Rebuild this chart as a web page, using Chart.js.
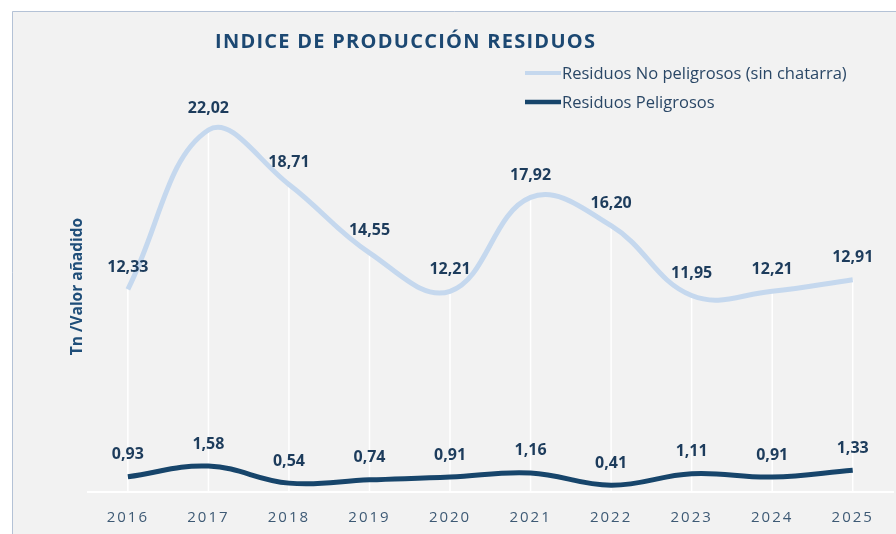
<!DOCTYPE html>
<html>
<head>
<meta charset="utf-8">
<script src="https://cdn.jsdelivr.net/npm/chart.js@4"></script>
<style>
  html, body { margin: 0; padding: 0; background: #ffffff; }
  #wrap { position: relative; width: 896px; height: 534px; }
</style>
</head>
<body>
<div id="wrap"><canvas id="residuosChart"></canvas></div>
<script>
// Values
const years = ['2016', '2017', '2018', '2019', '2020', '2021', '2022', '2023', '2024', '2025'];
const noPeligrosos = [12.33, 22.02, 18.71, 14.55, 12.21, 17.92, 16.20, 11.95, 12.21, 12.91];
const peligrosos = [0.93, 1.58, 0.54, 0.74, 0.91, 1.16, 0.41, 1.11, 0.91, 1.33];
const seriesNames = ['Residuos No peligrosos (sin chatarra)', 'Residuos Peligrosos'];
const chartTitle = 'INDICE DE PRODUCCIÓN RESIDUOS';
const yTitle = 'Tn /Valor añadido';

const lightBlue = '#c5d8ee';
const darkBlue = '#17456b';
const labelColor = '#1d3c5c';

function fmt(v) {
    return v.toFixed(2).replace('.', ',');
}

// Background box, drop lines, value labels, title and legend
const decorPlugin = {
    id: 'decor',
    beforeDraw(chart) {
        const ctx = chart.ctx;
        ctx.save();
        ctx.fillStyle = '#f2f2f2';
        ctx.fillRect(12, 11, chart.width - 12, chart.height - 11);
        ctx.strokeStyle = '#b4c2d6';
        ctx.lineWidth = 1;
        ctx.beginPath();
        ctx.moveTo(12.5, chart.height);
        ctx.lineTo(12.5, 11.5);
        ctx.lineTo(chart.width, 11.5);
        ctx.stroke();
        ctx.restore();
        // spaced digits on the year axis
        ctx.letterSpacing = '2px';
    },
    beforeDatasetsDraw(chart) {
        const ctx = chart.ctx;
        ctx.letterSpacing = '0px';
        const base = chart.scales.y.getPixelForValue(0);
        const meta = chart.getDatasetMeta(0);
        ctx.save();
        ctx.strokeStyle = '#ffffff';
        ctx.lineWidth = 1.5;
        meta.data.forEach(pt => {
            ctx.beginPath();
            ctx.moveTo(pt.x, pt.y);
            ctx.lineTo(pt.x, base);
            ctx.stroke();
        });
        ctx.restore();
    },
    afterDatasetsDraw(chart) {
        const ctx = chart.ctx;
        ctx.save();
        ctx.font = 'bold 16px "Open Sans"';
        ctx.fillStyle = labelColor;
        ctx.textAlign = 'center';
        ctx.textBaseline = 'middle';
        chart.data.datasets.forEach((ds, i) => {
            chart.getDatasetMeta(i).data.forEach((pt, j) => {
                ctx.fillText(fmt(ds.data[j]), pt.x, pt.y - 22);
            });
        });
        ctx.restore();
    },
    afterDraw(chart) {
        const ctx = chart.ctx;
        ctx.save();
        // title
        ctx.font = 'bold 20px "Open Sans"';
        ctx.fillStyle = '#1c4872';
        ctx.textBaseline = 'middle';
        ctx.textAlign = 'left';
        const w = ctx.measureText(chartTitle).width;
        ctx.letterSpacing = Math.max(0, (380 - w) / (chartTitle.length - 1)) + 'px';
        ctx.fillText(chartTitle, 215, 42);
        ctx.letterSpacing = '0px';
        // legend
        const rows = [[lightBlue, 4, 73], [darkBlue, 4.5, 102]];
        ctx.font = '16.5px "Open Sans"';
        ctx.fillStyle = '#2a4766';
        rows.forEach((r, i) => {
            ctx.strokeStyle = r[0];
            ctx.lineWidth = r[1];
            ctx.beginPath();
            ctx.moveTo(525, r[2]);
            ctx.lineTo(561, r[2]);
            ctx.stroke();
            ctx.fillText(seriesNames[i], 562, r[2] + 1);
        });
        ctx.restore();
    }
};

new Chart(document.getElementById('residuosChart'), {
    type: 'line',
    data: {
        labels: years,
        datasets: [
            {
                label: seriesNames[0],
                data: noPeligrosos,
                borderColor: lightBlue,
                borderWidth: 5,
                tension: 0.4,
                pointRadius: 0,
                fill: false
            },
            {
                label: seriesNames[1],
                data: peligrosos,
                borderColor: darkBlue,
                borderWidth: 5,
                tension: 0.4,
                pointRadius: 0,
                fill: false
            }
        ]
    },
    options: {
        responsive: true,
        maintainAspectRatio: false,
        animation: false,
        layout: { padding: { top: 81, left: 68, right: 3, bottom: -10 } },
        scales: {
            x: {
                offset: true,
                grid: { display: false, drawTicks: false },
                border: { display: true, color: '#ffffff', width: 2 },
                ticks: {
                    padding: 17,
                    maxRotation: 0,
                    color: '#3e5a75',
                    font: { family: 'Open Sans', size: 15 }
                }
            },
            y: {
                min: 0,
                max: 25,
                // drawn after the datasets so the axis title gets normal spacing
                grid: { display: false, drawTicks: false, z: 1 },
                border: { display: false },
                ticks: { display: false, z: 1 },
                title: {
                    display: true,
                    text: yTitle,
                    color: '#1f4e79',
                    font: { family: 'Open Sans', size: 15.5, weight: 'bold' },
                    padding: { top: 0, bottom: 1 }
                }
            }
        },
        plugins: {
            legend: { display: false },
            title: { display: false },
            tooltip: { enabled: false }
        }
    },
    plugins: [decorPlugin]
});
</script>
</body>
</html>
